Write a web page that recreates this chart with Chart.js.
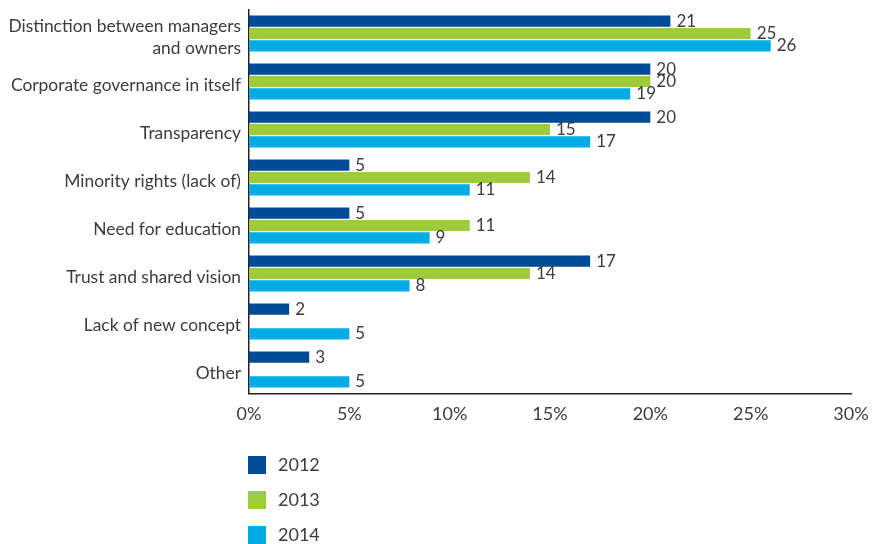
<!DOCTYPE html>
<html>
<head>
<meta charset="utf-8">
<script src="https://cdn.jsdelivr.net/npm/chart.js@4"></script>
<style>
  html, body { margin: 0; padding: 0; background: #fff; }
  #wrap { width: 886px; height: 544px; }
</style>
</head>
<body>
<div id="wrap"><canvas id="chart" width="886" height="544"></canvas></div>
<script>
const categories = [
    ['Distinction between managers', 'and owners'],
    'Corporate governance in itself',
    'Transparency',
    'Minority rights (lack of)',
    'Need for education',
    'Trust and shared vision',
    'Lack of new concept',
    'Other'
];
const years = ['2012', '2013', '2014'];
const values2012 = [21, 20, 20, 5, 5, 17, 2, 3];
const values2013 = [25, 20, 15, 14, 11, 14, null, null];
const values2014 = [26, 19, 17, 11, 9, 8, 5, 5];
const colors = ['#004b93', '#9ccb3b', '#00ace6'];
const xTicks = [0, 5, 10, 15, 20, 25, 30];

const FONT = 'Lato, "Open Sans", sans-serif';
const TEXT = '#3c3c3c';

// value labels at the end of each bar
const valueLabels = {
    id: 'valueLabels',
    afterDatasetsDraw(chart) {
        const ctx = chart.ctx;
        ctx.save();
        ctx.font = '17px ' + FONT;
        ctx.fillStyle = TEXT;
        ctx.textAlign = 'left';
        ctx.textBaseline = 'middle';
        chart.data.datasets.forEach((ds, i) => {
            const meta = chart.getDatasetMeta(i);
            meta.data.forEach((bar, j) => {
                const v = ds.data[j];
                if (v === null) return;
                ctx.fillText(v, bar.x + 6, bar.y);
            });
        });
        ctx.restore();
    }
};

// vertical legend under the plot, aligned to the axis
const stackedLegend = {
    id: 'stackedLegend',
    afterDraw(chart) {
        const ctx = chart.ctx;
        const left = chart.chartArea.left - 1;
        ctx.save();
        ctx.font = '18px ' + FONT;
        ctx.textBaseline = 'middle';
        chart.data.datasets.forEach((ds, i) => {
            const y = 456 + i * 35;
            ctx.fillStyle = ds.backgroundColor;
            ctx.fillRect(left, y, 18, 18);
            ctx.fillStyle = TEXT;
            ctx.fillText(ds.label, left + 30, y + 9);
        });
        ctx.restore();
    }
};

new Chart(document.getElementById('chart'), {
    type: 'bar',
    data: {
        labels: categories,
        datasets: [
            { label: years[0], data: values2012, backgroundColor: colors[0] },
            { label: years[1], data: values2013, backgroundColor: colors[1] },
            { label: years[2], data: values2014, backgroundColor: colors[2] }
        ]
    },
    options: {
        indexAxis: 'y',
        responsive: false,
        animation: false,
        datasets: {
            bar: { categoryPercentage: 0.78, barPercentage: 0.9 }
        },
        layout: {
            padding: { top: 9.5, right: 35, bottom: 110.5, left: 0 }
        },
        plugins: {
            legend: { display: false },
            tooltip: { enabled: false }
        },
        scales: {
            x: {
                min: 0,
                max: 30,
                afterFit(scale) {
                    scale.height = 40;
                    scale.paddingLeft = 0;
                    scale.paddingRight = 0;
                },
                afterBuildTicks(scale) { scale.ticks = xTicks.map(v => ({ value: v })); },
                grid: { display: false, drawTicks: false },
                border: { display: true, color: '#222', width: 1.5 },
                ticks: {
                    padding: 10,
                    color: TEXT,
                    font: { family: FONT, size: 18 },
                    callback: v => v + '%'
                }
            },
            y: {
                afterFit(scale) {
                    scale.width = 249;
                    scale.paddingTop = 0;
                    scale.paddingBottom = 0;
                },
                grid: { display: false, drawTicks: false },
                border: { display: true, color: '#222', width: 1.5 },
                ticks: {
                    autoSkip: false,
                    padding: 8,
                    labelOffset: 4,
                    color: TEXT,
                    font: { family: FONT, size: 17.4, lineHeight: 1.3 }
                }
            }
        }
    },
    plugins: [valueLabels, stackedLegend]
});
</script>
</body>
</html>
